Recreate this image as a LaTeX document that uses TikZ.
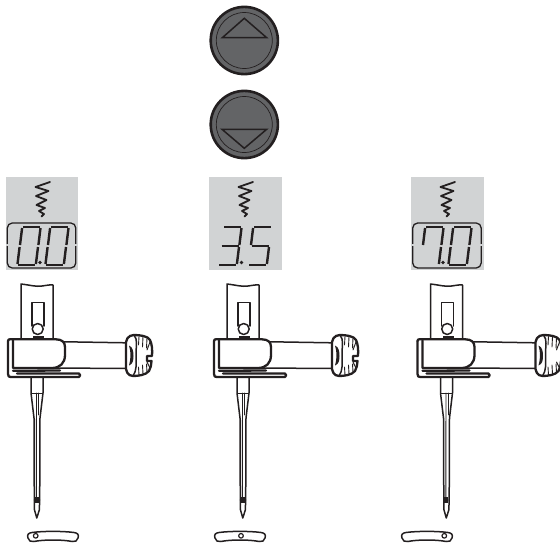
\documentclass[tikz,border=0pt]{standalone}
\definecolor{ink}{HTML}{231F20}
\definecolor{btn}{HTML}{636466}
\definecolor{lcdbg}{HTML}{D1D3D4}
\tikzset{
  lcdseg/.style={draw=ink,line width=2.4pt,line cap=butt},
  lcdframe/.style={draw=ink,line width=1.3pt,rounded corners=5pt},
  zig/.style={draw=ink,line width=1.8pt,line join=round,line cap=round},
  btnouter/.style={draw=ink,line width=2.6pt,fill=btn},
  btninner/.style={draw=ink,line width=.7pt},
  btntri/.style={draw=ink,line width=1.5pt,line join=miter},
  mech/.style={draw=ink,line width=1.5pt,line join=round,line cap=round},
  thickmech/.style={draw=ink,line width=2.3pt,line join=round,line cap=round},
  thinmech/.style={draw=ink,line width=.9pt,line cap=round},
}
\newcommand\sgA{\draw[lcdseg] (6,0)--(23,0);}
\newcommand\sgB{\draw[lcdseg] (23.5,1)--(21.4,18);}
\newcommand\sgC{\draw[lcdseg] (21,20)--(18.9,37);}
\newcommand\sgD{\draw[lcdseg] (1,38)--(18,38);}
\newcommand\sgE{\draw[lcdseg] (.5,37)--(2.6,20);}
\newcommand\sgF{\draw[lcdseg] (3,18)--(5.1,1);}
\newcommand\sgG{\draw[lcdseg] (3.5,19)--(20.5,19);}
\newcommand\lcdZero{\sgA\sgB\sgC\sgD\sgE\sgF}
\newcommand\lcdThree{\sgA\sgB\sgC\sgD\sgG}
\newcommand\lcdFive{\sgA\sgC\sgD\sgF\sgG}
\newcommand\lcdSeven{\sgA\sgB\sgC\sgF}
\newcommand\lcdDigit[3]{\begin{scope}[shift={(#1,#2)}]#3\end{scope}}
\newcommand\lcdPanel[2]{%
  \fill[lcdbg] (#1,177) rectangle ++(72.5,93);
  \begin{scope}[shift={(#2,0)}]
  \draw[zig] (50,182)--(35.5,187)--(48.5,191)--(36,196)--(46.5,200)--(36.5,205)--(45,208)--(39,211)--(44,214)--(41.5,216.5);
  \end{scope}}
\newcommand\lcdBox[1]{%
  \draw[lcdframe] (#1,223) rectangle ++(68.5,45);
  \fill[lcdbg] (#1-1,244) rectangle ++(2,2.2);
  \fill[lcdbg] (#1+67.5,244) rectangle ++(2,2.2);}
\newcommand\holder[2]{%
\begin{scope}[shift={(#1,0)}]
  % shank
  \draw[mech] (21,339)--(21,284) .. controls (30,285) and (36,287) .. (42,286) .. controls (46,285.5) and (50,284.5) .. (53,285)--(53,339);
  \draw[mech] (32,326)--(32,302.5)--(44,302.5)--(44,326);
  \draw[mech,fill=white] (37.7,329) circle (5.5);
  \fill[ink] (33,335.5) rectangle (44,338.5);
  % needle
  \draw[mech] (31,377)--(31,393)--(34,418)--(34.3,500);
  \draw[mech] (43,377)--(43,393)--(40,418)--(39.7,500);
  \draw[thinmech] (31.5,393)--(42.5,393);
  \draw[thinmech] (36.5,393)--(36.3,497);
  \draw[thinmech] (38.7,393)--(38.7,415);
  \draw[mech] (34.3,500)--(34.5,510)--(36.8,518)--(39.3,510)--(39.7,500);
  \fill[ink] (34.8,497) rectangle (38.8,503);
  \fill[white] (36.8,507) ellipse (1 and 3);
  % tube
  \draw[mech,fill=white] (60,341.7)--(126,342.8)--(127,368.5)--(55,368)--cycle;
  % clamp
  \draw[thickmech,fill=white] (8,341) .. controls (8,339.5) and (9,339.3) .. (10,339.3)--(56,339.3) .. controls (62,339.5) and (65,342) .. (65,347)--(65,355) .. controls (65,363) and (60,368) .. (52,368)--(13,368)--(13,341);
  \draw[thickmech] (13,370.8)--(60,370.5);
  \draw[thickmech] (8,341)--(8,374) .. controls (8,376.5) and (9,377) .. (11,377)--(79,377) .. controls (80.5,377) and (80.5,373.5) .. (79,373.5)--(17,373.5);
  % knob
  \draw[thickmech,fill=white] (126,347) .. controls (125,340) and (128,335) .. (134,335) .. controls (140,335) and (148,336) .. (150,340) .. controls (152,344) and (152.5,350) .. (152,356)--(152-#2,356)--(152-#2,361)--(151.5,361) .. controls (151,365) and (151,368) .. (149,371) .. controls (146,375) and (138,376) .. (133,376) .. controls (128,376) and (125,371) .. (126,364)--cycle;
  \draw[mech] (134,335) .. controls (138,340) and (136,345) .. (136,355) .. controls (136,365) and (137,370) .. (133,376);
  \fill[ink] (129,345.5) .. controls (133,347) and (133.5,352) .. (133.5,356) .. controls (133.5,360) and (133,364) .. (129,365.5) .. controls (131,358) and (131,352) .. (129,345.5);
  \draw[thinmech] (139,336.5)--(138.5,345) (143,336.5)--(142.5,347) (147,338)--(146.5,348) (150,342)--(147,350);
  \draw[thinmech] (139,375)--(138.5,367) (143,374)--(142.5,365) (147,372)--(146.5,364) (149.5,367)--(147,362);
  \end{scope}}
\newcommand\plate[2]{%
\begin{scope}[shift={(#1,0)}]
  \draw[mech] (4,532.5) .. controls (15,531) and (35,531) .. (46,532.5) .. controls (50,533) and (51,535) .. (50,538) .. controls (49.5,541) and (47,542) .. (44,541.5) .. controls (35,539.5) and (15,539.5) .. (6,541.5) .. controls (3,542) and (.5,541) .. (0,538) .. controls (-1,535) and (0,533) .. (4,532.5)--cycle;
  \draw[mech,line width=1.2pt] (#2,535.8) circle (2.3);
\end{scope}}
\begin{document}
\begin{tikzpicture}[x=1pt,y=-1pt]
\useasboundingbox (0,0) rectangle (560,544);
% buttons
\draw[btnouter] (244.3,40.5) circle (33.6);
\draw[btninner] (244.3,40.5) circle (28);
\draw[btntri] (222.3,37.7)--(244.3,18.3)--(266.7,37.7)--cycle;
\draw[btnouter] (244.3,124.5) circle (33.6);
\draw[btninner] (244.3,124.5) circle (28);
\draw[btntri] (222,129.3)--(244.3,148.3)--(266.7,129.3)--cycle;
% displays
\lcdPanel{5.7}{0}
\lcdBox{7.3}
\lcdDigit{17}{227}{\lcdZero}
\lcdDigit{45}{227}{\lcdZero}
\fill[ink] (40,262.5) circle (1.9);
\lcdPanel{209}{203}
\lcdDigit{218}{227}{\lcdThree}
\lcdDigit{248}{227}{\lcdFive}
\fill[ink] (241.5,262.5) circle (1.9);
\lcdPanel{411}{405}
\lcdBox{412.7}
\lcdDigit{420}{227}{\lcdSeven}
\lcdDigit{448}{227}{\lcdZero}
\fill[ink] (443,262.5) circle (1.9);
% mechanisms
\holder{0}{5}
\holder{206}{5}
\holder{409.5}{0}
\plate{28}{7.7}
\plate{215}{26}
\plate{402}{42.3}
\end{tikzpicture}
\end{document}
